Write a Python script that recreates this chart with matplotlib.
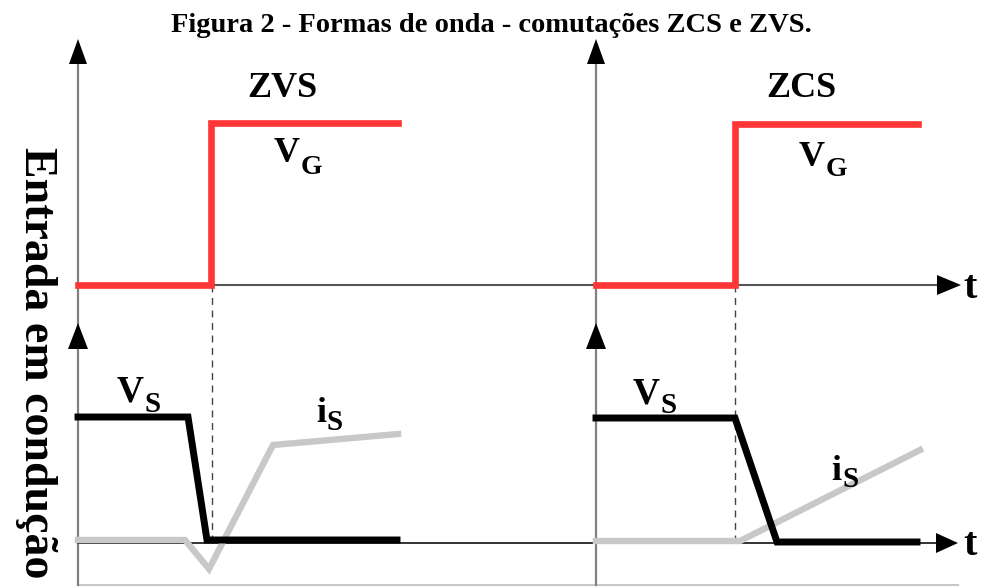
import matplotlib
matplotlib.use("Agg")
import matplotlib.pyplot as plt
from matplotlib.transforms import Affine2D

# ---------------- text ----------------
title = "Figura 2 - Formas de onda - comutações ZCS e ZVS."
side_label = "Entrada em condução"
panel_names = ["ZVS", "ZCS"]
axis_symbol = "t"

# ---------------- data (panel units: t to the right, amplitude up) ----------------
zvs_vg_t = [0, 133, 133, 320]
zvs_vg_v = [0, 0, 162, 162]
zvs_vs_t = [0, 110, 129, 319]
zvs_vs_v = [126, 126, 3, 3]
zvs_is_t = [0, 107, 131, 195, 320]
zvs_is_v = [3, 3, -26, 98, 109]

zcs_vg_t = [0, 139, 139, 322]
zcs_vg_v = [0, 0, 161, 161]
zcs_vs_t = [0, 139, 181, 321]
zcs_vs_v = [125, 125, 1, 1]
zcs_is_t = [0, 144, 324]
zcs_is_v = [2, 2, 93]

switch_t = [134, 139]

# ---------------- layout ----------------
W, H = 984, 588
panel_x0 = [78, 596]
top_base = 285
bot_base = 543
bottom_edge = 585
axis_end = 940

RED = "#ff3636"
GRAY_IS = "#c8c8c8"
AXIS_GRAY = "#808080"
SERIF = ["Liberation Serif", "DejaVu Serif"]

fig = plt.figure(figsize=(W / 100, H / 100), dpi=100)
ax = fig.add_axes([0, 0, 1, 1])
ax.set_xlim(0, W)
ax.set_ylim(H, 0)
ax.axis("off")


def ptr(x0, y0):
    return Affine2D().scale(1, -1).translate(x0, y0) + ax.transData


def tri_up(x, ytip, h=26, w=10):
    ax.fill([x, x - w, x + w], [ytip, ytip + h, ytip + h], color="black", lw=0, zorder=6)


def tri_right(xtip, y, l=22, w=10):
    ax.fill([xtip, xtip - l, xtip - l], [y, y - w, y + w], color="black", lw=0, zorder=6)


# axes frame lines
for x0 in panel_x0:
    ax.plot([x0, x0], [bottom_edge, 55], color=AXIS_GRAY, lw=1.6, zorder=2)
    tri_up(x0, 39, h=25, w=9)
    tri_up(x0, 323, h=26, w=10)
ax.plot([panel_x0[0], axis_end], [top_base, top_base], color="#555555", lw=1.5, zorder=2)
ax.plot([panel_x0[0], axis_end], [bot_base, bot_base], color="#222222", lw=1.3, zorder=2)
ax.plot([panel_x0[0], 958], [bottom_edge, bottom_edge], color="#c8c8c8", lw=1.5, zorder=1)
tri_right(961, top_base, l=24, w=10)
tri_right(958, bot_base, l=22, w=10)
for yb in [top_base + 13, bot_base + 12]:
    ax.text(970, yb, axis_symbol, family=SERIF, weight="bold", fontsize=29,
            ha="center", va="baseline")

# waveforms
waves = [
    (zvs_vg_t, zvs_vg_v, zvs_vs_t, zvs_vs_v, zvs_is_t, zvs_is_v),
    (zcs_vg_t, zcs_vg_v, zcs_vs_t, zcs_vs_v, zcs_is_t, zcs_is_v),
]
for i, (vgt, vgv, vst, vsv, ist, isv) in enumerate(waves):
    x0 = panel_x0[i]
    ax.plot(vgt, vgv, color=RED, lw=4.8, transform=ptr(x0, top_base),
            solid_joinstyle="miter", zorder=4)
    ax.plot(ist, isv, color=GRAY_IS, lw=4.6, transform=ptr(x0, bot_base),
            solid_joinstyle="miter", zorder=3)
    ax.plot(vst, vsv, color="black", lw=5.0, transform=ptr(x0, bot_base),
            solid_joinstyle="miter", zorder=4)
    ax.plot([switch_t[i], switch_t[i]], [0, top_base - bot_base],
            color="#444444", lw=1.0, ls=(0, (5, 4)), transform=ptr(x0, top_base), zorder=2)

# labels
def sub_label(x, y, main, sub, size_main, size_sub, dx, dy):
    ax.text(x, y, main, family=SERIF, weight="bold", fontsize=size_main,
            ha="left", va="baseline", zorder=7)
    ax.text(x + dx, y + dy, sub, family=SERIF, weight="bold", fontsize=size_sub,
            ha="left", va="baseline", zorder=7)

ax.text(282, 97, panel_names[0], family=SERIF, weight="bold", fontsize=26,
        ha="center", va="baseline")
ax.text(801, 97, panel_names[1], family=SERIF, weight="bold", fontsize=26,
        ha="center", va="baseline")

sub_label(274, 162, "V", "G", 26, 20, 27, 12)
sub_label(799, 166, "V", "G", 26, 20, 27, 10)
sub_label(117, 402, "V", "S", 27, 21, 27, 10)
sub_label(633, 403, "V", "S", 27, 21, 28, 10)
sub_label(316, 422, "i", "S", 26, 21, 11, 8)
sub_label(831, 480, "i", "S", 26, 21, 11, 7)

ax.text(491, 32, title, family=SERIF, weight="bold", fontsize=20.5,
        ha="center", va="baseline")
ax.text(36, 363, side_label, family=SERIF, weight="bold", fontsize=33,
        rotation=-90, ha="center", va="center")

fig.savefig("out.png", dpi=100)
